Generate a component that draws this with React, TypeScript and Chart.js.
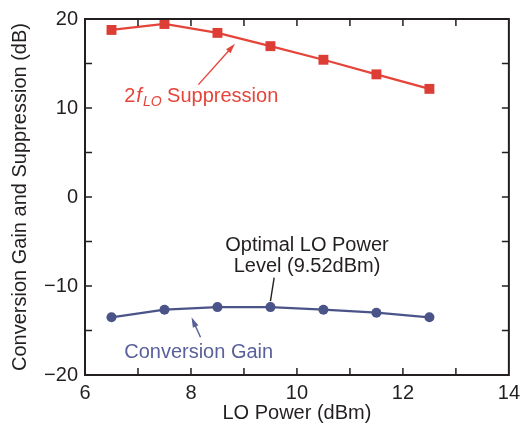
import { useEffect, useRef } from "react";
import { Chart, registerables } from "chart.js";

Chart.register(...registerables);

// LO drive levels (dBm)
const loPower = [6.5, 7.5, 8.5, 9.5, 10.5, 11.5, 12.5];
// 2fLO suppression (dB)
const suppression = [18.77, 19.44, 18.44, 16.95, 15.42, 13.78, 12.15];
// Conversion gain (dB)
const conversionGain = [-13.52, -12.66, -12.37, -12.37, -12.66, -13.0, -13.52];

const xRange = [6, 14];
const yRange = [-20, 20];
const xMajorStep = 2;
const yMajorStep = 10;
const xMinorStep = 1;
const yMinorStep = 5;

const RED = "#e5443a";
const RED_MARK = "#dc3d35";
const BLUE = "#4a5489";
const BLUE_TEXT = "#5a619a";
const INK = "#231f20";
const FONT = "'Liberation Sans', Arial, Helvetica, sans-serif";

function arrow(ctx: CanvasRenderingContext2D, x0: number, y0: number, x1: number, y1: number, color: string) {
  const ang = Math.atan2(y1 - y0, x1 - x0);
  const head = 10;
  const half = 3;
  ctx.save();
  ctx.strokeStyle = color;
  ctx.fillStyle = color;
  ctx.lineWidth = 1.4;
  ctx.beginPath();
  ctx.moveTo(x0, y0);
  ctx.lineTo(x1 - Math.cos(ang) * head * 0.8, y1 - Math.sin(ang) * head * 0.8);
  ctx.stroke();
  ctx.beginPath();
  ctx.moveTo(x1, y1);
  ctx.lineTo(x1 - Math.cos(ang) * head - Math.sin(ang) * half, y1 - Math.sin(ang) * head + Math.cos(ang) * half);
  ctx.lineTo(x1 - Math.cos(ang) * head + Math.sin(ang) * half, y1 - Math.sin(ang) * head - Math.cos(ang) * half);
  ctx.closePath();
  ctx.fill();
  ctx.restore();
}

const framePlugin = {
  id: "frameAndNotes",
  afterDatasetsDraw(chart: any) {
    const { ctx, chartArea: a, scales } = chart;
    const xs = scales.x;
    const ys = scales.y;
    const px = (v: number) => xs.getPixelForValue(v);
    const py = (v: number) => ys.getPixelForValue(v);
    const tickLen = 7;

    ctx.save();
    // inward tick marks on all four sides
    ctx.strokeStyle = INK;
    ctx.lineWidth = 1.5;
    ctx.beginPath();
    for (let v = xRange[0] + xMinorStep; v < xRange[1]; v += xMinorStep) {
      const x = px(v);
      ctx.moveTo(x, a.bottom);
      ctx.lineTo(x, a.bottom - tickLen);
      ctx.moveTo(x, a.top);
      ctx.lineTo(x, a.top + tickLen);
    }
    for (let v = yRange[0] + yMinorStep; v < yRange[1]; v += yMinorStep) {
      const y = py(v);
      ctx.moveTo(a.left, y);
      ctx.lineTo(a.left + tickLen, y);
      ctx.moveTo(a.right, y);
      ctx.lineTo(a.right - tickLen, y);
    }
    ctx.stroke();
    // plot frame
    ctx.lineWidth = 2;
    ctx.strokeRect(a.left, a.top, a.right - a.left, a.bottom - a.top);

    // 2fLO Suppression label
    ctx.fillStyle = RED;
    ctx.textBaseline = "alphabetic";
    ctx.textAlign = "left";
    let tx = px(6.74);
    const ty = py(10.73);
    ctx.font = `20px ${FONT}`;
    ctx.fillText("2", tx, ty);
    tx += ctx.measureText("2").width + 1;
    ctx.font = `italic 20px ${FONT}`;
    ctx.fillText("f", tx, ty);
    tx += ctx.measureText("f").width + 1;
    ctx.font = `italic 14px ${FONT}`;
    ctx.fillText("LO", tx, ty + 4);
    tx += ctx.measureText("LO").width;
    ctx.font = `20px ${FONT}`;
    ctx.fillText(" Suppression", tx, ty);
    arrow(ctx, px(8.14), py(12.63), px(8.83), py(17.21), RED);

    // optimal LO power note
    ctx.fillStyle = INK;
    ctx.textAlign = "center";
    ctx.font = `20px ${FONT}`;
    ctx.fillText("Optimal LO Power", px(10.19), py(-6.03));
    ctx.fillText("Level (9.52dBm)", px(10.19), py(-8.38));
    ctx.strokeStyle = INK;
    ctx.lineWidth = 1.4;
    ctx.beginPath();
    ctx.moveTo(px(9.57), py(-9.05));
    ctx.lineTo(px(9.5), py(-11.7));
    ctx.stroke();

    // Conversion Gain label
    ctx.fillStyle = BLUE_TEXT;
    ctx.textAlign = "left";
    ctx.fillText("Conversion Gain", px(6.74), py(-18.1));
    arrow(ctx, px(8.18), py(-15.75), px(8.01), py(-13.52), BLUE_TEXT);
    ctx.restore();
  },
};

export default function App() {
  const ref = useRef<HTMLCanvasElement | null>(null);

  useEffect(() => {
    if (!ref.current) return;
    const chart = new Chart(ref.current, {
      type: "line",
      data: {
        datasets: [
          {
            label: "2fLO Suppression",
            data: loPower.map((x, i) => ({ x, y: suppression[i] })),
            borderColor: RED,
            backgroundColor: RED_MARK,
            borderWidth: 2.2,
            pointStyle: "rect",
            pointRadius: 7,
            pointBorderWidth: 0,
            tension: 0,
          },
          {
            label: "Conversion Gain",
            data: loPower.map((x, i) => ({ x, y: conversionGain[i] })),
            borderColor: BLUE,
            backgroundColor: BLUE,
            borderWidth: 2.2,
            pointStyle: "circle",
            pointRadius: 5,
            pointBorderWidth: 0,
            tension: 0,
          },
        ],
      },
      options: {
        responsive: false,
        animation: false,
        layout: { padding: { top: 17, right: 11, left: 0, bottom: 0 } },
        plugins: { legend: { display: false }, tooltip: { enabled: false } },
        scales: {
          x: {
            type: "linear",
            min: xRange[0],
            max: xRange[1],
            grid: { display: false, drawTicks: false },
            border: { display: false },
            ticks: {
              stepSize: xMajorStep,
              padding: 6,
              color: INK,
              font: { family: FONT, size: 20 },
              maxRotation: 0,
            },
            title: {
              display: true,
              text: "LO Power (dBm)",
              color: INK,
              font: { family: FONT, size: 20 },
              padding: { top: 0, bottom: 8 },
            },
            afterFit(scale: any) {
              scale.height = 58;
            },
          },
          y: {
            type: "linear",
            min: yRange[0],
            max: yRange[1],
            grid: { display: false, drawTicks: false },
            border: { display: false },
            ticks: {
              stepSize: yMajorStep,
              padding: 7,
              color: INK,
              font: { family: FONT, size: 20 },
              callback: (v: any) => (Number(v) < 0 ? "\u2212" + Math.abs(Number(v)) : String(v)),
            },
            title: {
              display: true,
              text: "Conversion Gain and Suppression (dB)",
              color: INK,
              font: { family: FONT, size: 20 },
              padding: { top: 8, bottom: 0 },
            },
            afterFit(scale: any) {
              scale.width = 85;
            },
          },
        },
      },
      plugins: [framePlugin],
    });
    return () => chart.destroy();
  }, []);

  return (
    <div style={{ position: "fixed", left: 0, top: 0, width: 526, height: 433, background: "#fff" }}>
      <canvas ref={ref} width={526} height={433} />
    </div>
  );
}
